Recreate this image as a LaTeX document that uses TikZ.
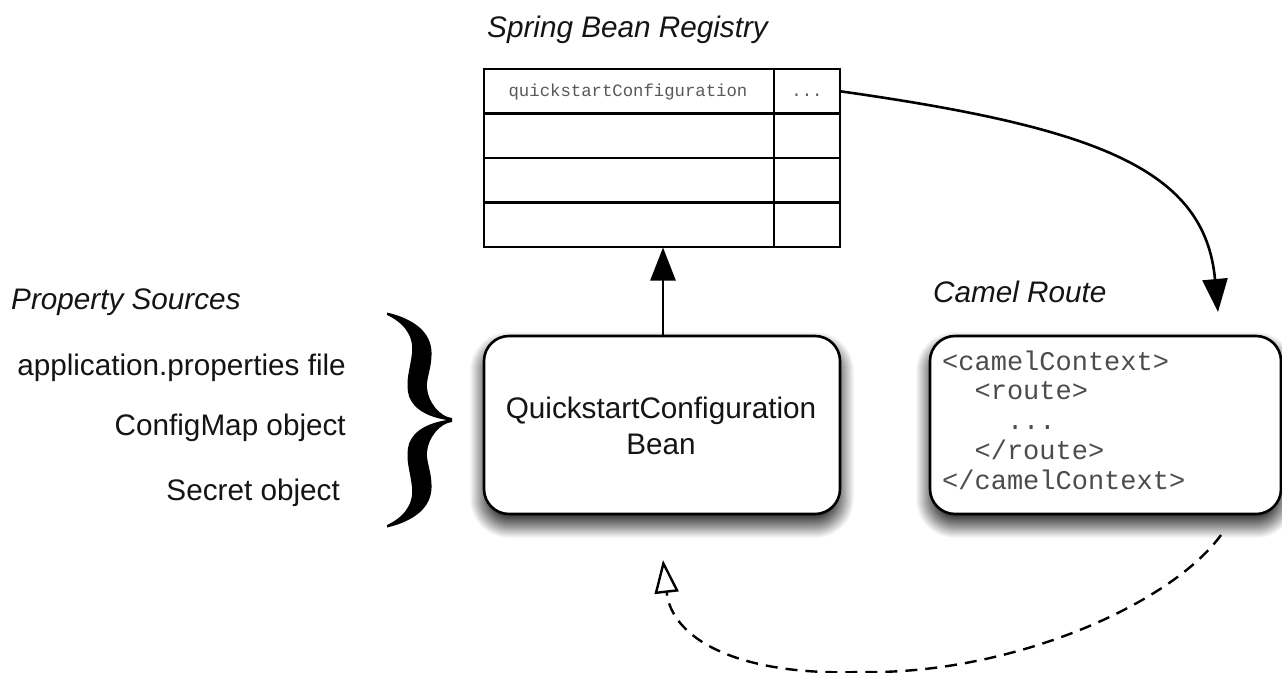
\documentclass[tikz,border=0pt]{standalone}
\usepackage{fontspec}
\setmainfont{Liberation Sans}
\newfontfamily\codefont{Liberation Mono}
\usetikzlibrary{arrows.meta}
\tikzset{
  x=1pt,y=-1pt,
  label text/.style={font=\fontsize{29.7}{34}\selectfont,inner sep=0pt,text=black!92},
  title text/.style={font=\fontsize{29.7}{34}\selectfont\itshape,inner sep=0pt,text=black!92},
  cellbox/.style={draw=black,line width=2.6pt,inner sep=0pt,outer sep=0pt,minimum height=44.5pt,anchor=north west},
  roundbox/.style={draw=black,fill=white,line width=2.6pt,rounded corners=25pt,inner sep=0pt,outer sep=0pt,anchor=north west},
  solidarrow/.style={line width=2.6pt,-{Triangle[length=33pt,width=25pt]}},
  openarrow/.style={line width=2.4pt,dash pattern=on 12pt off 8pt,-{Triangle[open,length=33pt,width=24pt,fill=white]}},
}
\newcommand{\softshadow}[4]{%
  \foreach \r in {14,13,...,-13}{%
    \pgfmathsetmacro{\shalpha}{0.9/(28-0.9*(14-\r))}%
    \pgfmathsetmacro{\shrad}{max(25+\r,6)}%
    \fill[black,opacity=\shalpha,rounded corners=\shrad pt] (#1-\r,#2+10-\r) rectangle (#3+\r,#4+10+\r);
  }%
}
\begin{document}
\begin{tikzpicture}
\useasboundingbox (0,0) rectangle (1282,672);
\clip (0,0) rectangle (1282,672);
\fill[white] (0,0) rectangle (1282,672);

% shadows
\softshadow{484}{336}{840}{514}
\softshadow{930}{336}{1281}{514}

% titles and labels
\node[title text,anchor=base west] (registrytitle) at (487,37) {Spring Bean Registry};
\node[title text,anchor=base west] (propstitle) at (11,309) {Property Sources};
\node[title text,anchor=base west] (cameltitle) at (933,302) {Camel Route};
\node[label text,anchor=base east] (appprops) at (346,375) {application.properties file};
\node[label text,anchor=base east] (configmap) at (346,435) {ConfigMap object};
\node[label text,anchor=base east] (secret) at (340,500) {Secret object};

% registry table
\foreach \n/\y in {1/69,2/113.5,3/158,4/202.5}{
  \node[cellbox,minimum width=290pt] (name\n) at (484,\y) {};
  \node[cellbox,minimum width=66pt] (val\n) at (774,\y) {};
}
\node[inner sep=0pt,text=black!65,font=\codefont\fontsize{17.3}{20}\selectfont,yshift=-0.5pt,xshift=-1pt] (nametext) at (name1.center) {quickstartConfiguration};
\node[inner sep=0pt,text=black!65,font=\codefont\fontsize{17.3}{20}\selectfont,anchor=base] (valtext) at (807,96) {...};
\coordinate (tablebottom) at (663,247);

% rounded boxes
\node[roundbox,minimum width=356pt,minimum height=178pt] (bean) at (484,336) {};
\node[inner sep=0pt,align=center,font=\fontsize{29.7}{36}\selectfont,text=black!92,yshift=-1pt,xshift=-1pt] (beantext) at (bean.center) {QuickstartConfiguration\\Bean};
\node[roundbox,minimum width=351pt,minimum height=178pt] (camel) at (930,336) {};
\node[inner sep=0pt,anchor=base west,text=black!70,align=left,font=\codefont\fontsize{27}{29.75}\selectfont] (code) at (942,489)
 {<camelContext>\\\hspace*{32.4pt}<route>\\\hspace*{64.8pt}...\\\hspace*{32.4pt}</route>\\</camelContext>};

% brace
\fill[black] (387,312.5)
  .. controls (415,319) and (431,333) .. (431.5,352)
  .. controls (432,368) and (426,378) .. (427,388)
  .. controls (428,402) and (440,417) .. (452,418)
  -- (452,422)
  .. controls (440,423) and (428,438) .. (427,452)
  .. controls (426,462) and (432,472) .. (431.5,488)
  .. controls (431,507) and (415,521) .. (387,527.5)
  -- (387,525)
  .. controls (402,518) and (414,506) .. (412,487)
  .. controls (410,470) and (406,462) .. (408,448)
  .. controls (410,435) and (422,424) .. (447,420)
  .. controls (422,416) and (410,405) .. (408,392)
  .. controls (406,378) and (410,370) .. (412,353)
  .. controls (414,334) and (402,322) .. (387,315)
  -- cycle;

% connectors
\coordinate (routein) at (1218,312);
\coordinate (dashstart) at (1221,535);
\coordinate (dashlow) at (860,672);
\coordinate (beanin) at (663,560);
\draw[solidarrow,shorten >=0.5pt] (bean.north -| tablebottom) -- (tablebottom);
\draw[solidarrow] (val1.east) .. controls (1100,128) and (1205,170) .. (routein);
\draw[openarrow] (dashstart) .. controls (1170,605) and (1010,675) .. (dashlow)
  .. controls (740,676) and (672,640) .. (beanin);
\end{tikzpicture}
\end{document}
